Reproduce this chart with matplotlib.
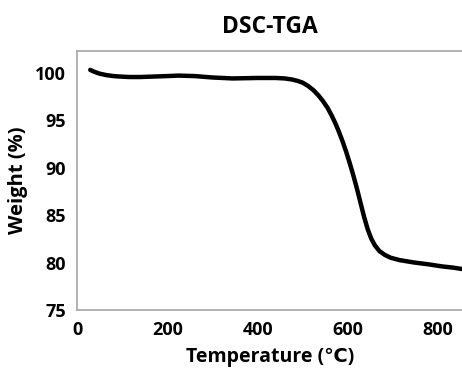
import numpy as np
import matplotlib
matplotlib.use("Agg")
import matplotlib.pyplot as plt

plt.rcParams['font.family'] = ['Open Sans', 'DejaVu Sans']
plt.rcParams['font.weight'] = 'bold'

# TGA curve
temp = [29, 38, 50, 65, 80, 95, 115, 140, 170, 200, 225, 260, 300, 344,
        400, 440, 460, 475, 488, 500, 512, 524, 535, 545, 555, 564, 572,
        580, 588, 596, 604, 612, 620, 628, 636, 644, 652, 660, 670, 682,
        695, 715, 747, 780, 807, 835, 855]
weight = [100.3, 100.1, 99.9, 99.75, 99.65, 99.6, 99.55, 99.55, 99.6, 99.65,
          99.7, 99.65, 99.5, 99.4, 99.45, 99.45, 99.4, 99.3, 99.15, 98.95,
          98.6, 98.15, 97.6, 97.0, 96.3, 95.5, 94.7, 93.8, 92.8, 91.7,
          90.5, 89.2, 87.8, 86.3, 84.8, 83.5, 82.5, 81.8, 81.2, 80.8,
          80.5, 80.25, 80.0, 79.8, 79.6, 79.45, 79.3]

xticks = [0, 200, 400, 600, 800]
yticks = [75, 80, 85, 90, 95, 100]

fig = plt.figure(figsize=(4.62, 3.69), dpi=100)
ax = fig.add_axes([0.167, 0.16, 0.835, 0.702])

ax.plot(temp, weight, color='black', lw=3.2, solid_capstyle='round',
        solid_joinstyle='round')

ax.set_xlim(0, 855)
ax.set_ylim(75, 102.3)
ax.set_xticks(xticks)
ax.set_yticks(yticks)
ax.tick_params(length=0, labelsize=13, pad=8)
for lab in ax.get_xticklabels() + ax.get_yticklabels():
    lab.set_fontweight('bold')

for s in ['left', 'top', 'bottom']:
    ax.spines[s].set_color('#a6a6a6')
    ax.spines[s].set_linewidth(1.2)
ax.spines['right'].set_visible(False)

ax.set_title('DSC-TGA', fontsize=16.5, fontweight='bold', pad=13)
ax.set_xlabel('Temperature (℃)', fontsize=14, fontweight='bold', labelpad=6)
ax.set_ylabel('Weight (%)', fontsize=14.5, fontweight='bold', labelpad=5)

fig.savefig('out.png', dpi=100)
